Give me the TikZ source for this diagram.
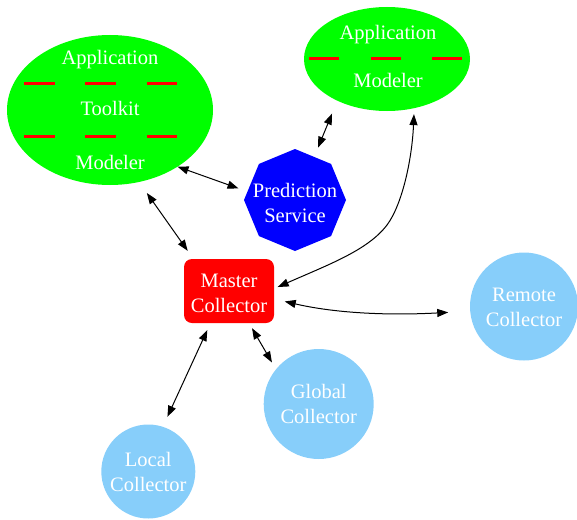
\documentclass[tikz,border=0pt]{standalone}
\usepackage{fontspec}
\setmainfont{Liberation Serif}
\usetikzlibrary{shapes.geometric,arrows.meta}
\definecolor{appgreen}{HTML}{00FF00}
\definecolor{mastred}{HTML}{FF0000}
\definecolor{predblue}{HTML}{0000FF}
\definecolor{collblue}{HTML}{87CEFA}
\begin{document}
\begin{tikzpicture}[x=1pt,y=-1pt,
  every node/.style={font=\fontsize{20.5}{25}\selectfont, text=white, inner sep=0pt, outer sep=0pt},
  link/.style={draw=black, line width=1pt, {Triangle[length=11pt,width=8pt]}-{Triangle[length=11pt,width=8pt]}},
  sepline/.style={draw=mastred, line width=3pt},
  appnode/.style={ellipse, fill=appgreen},
  coll/.style={circle, fill=collblue, align=center},
]
\useasboundingbox (0,0) rectangle (577,519);

% Application toolkit modeler
\node[appnode, minimum width=206pt, minimum height=150pt] (big) at (110,110) {};
\node[anchor=base] (bigA) at (110,64) {Application};
\node[anchor=base] (bigT) at (110,115.7) {Toolkit};
\node[anchor=base] (bigM) at (110,169) {Modeler};
\foreach \y in {83.3,136} {
  \draw[sepline] (24,\y) -- (55,\y);
  \draw[sepline] (85.3,\y) -- (115.7,\y);
  \draw[sepline] (146.7,\y) -- (177.3,\y);
}

% Application modeler
\node[appnode, minimum width=166pt, minimum height=104pt] (small) at (387,59) {};
\node[anchor=base] (smallA) at (388,40) {Application};
\node[anchor=base] (smallM) at (388,87.3) {Modeler};
\draw[sepline] (309.3,58.3) -- (339.3,58.3);
\draw[sepline] (370.7,58.3) -- (400.7,58.3);
\draw[sepline] (432,58.3) -- (462.3,58.3);

% Prediction service
\node[regular polygon, regular polygon sides=8, shape border rotate=22.5,
      fill=predblue, minimum size=102pt, inner sep=-20pt, align=center] (pred) at (295,200) {\rule{0pt}{20pt}Prediction\\Service};

% Master collector
\node[rectangle, rounded corners=8pt, fill=mastred, minimum width=90pt, minimum height=64pt, align=center] (master) at (229,291) {\rule{0pt}{18pt}Master\\Collector};

% Collectors
\node[coll, minimum size=108pt] (remote) at (524,306.5) {\rule{0pt}{16pt}Remote\\Collector};
\node[coll, minimum size=110pt] (global) at (318.7,404) {Global\\Collector};
\node[coll, minimum size=94pt] (local) at (148.3,471.5) {Local\\Collector};

% connectors
\draw[link, shorten >=9.5pt] (big.-40) -- (pred.170);
\draw[link, shorten <=14pt, shorten >=10pt] (small.220) -- (pred.66);
\draw[link, shorten <=13.5pt, shorten >=10pt] (big.-68) -- (master.138);
\draw[link, shorten <=6pt, shorten >=4pt] (small.-61) .. controls (412,160) and (402,205) .. (387,225) .. controls (368,250) and (330,264) .. (master.3);
\draw[link, shorten <=11pt, shorten >=22pt] (master.-10) .. controls (330,312) and (380,316) .. (remote.185);
\draw[link, shorten <=7.7pt, shorten >=11pt] (master.-120) -- (local.72);
\draw[link, shorten <=6pt, shorten >=8pt] (master.-58) -- (global.141);
\end{tikzpicture}
\end{document}
